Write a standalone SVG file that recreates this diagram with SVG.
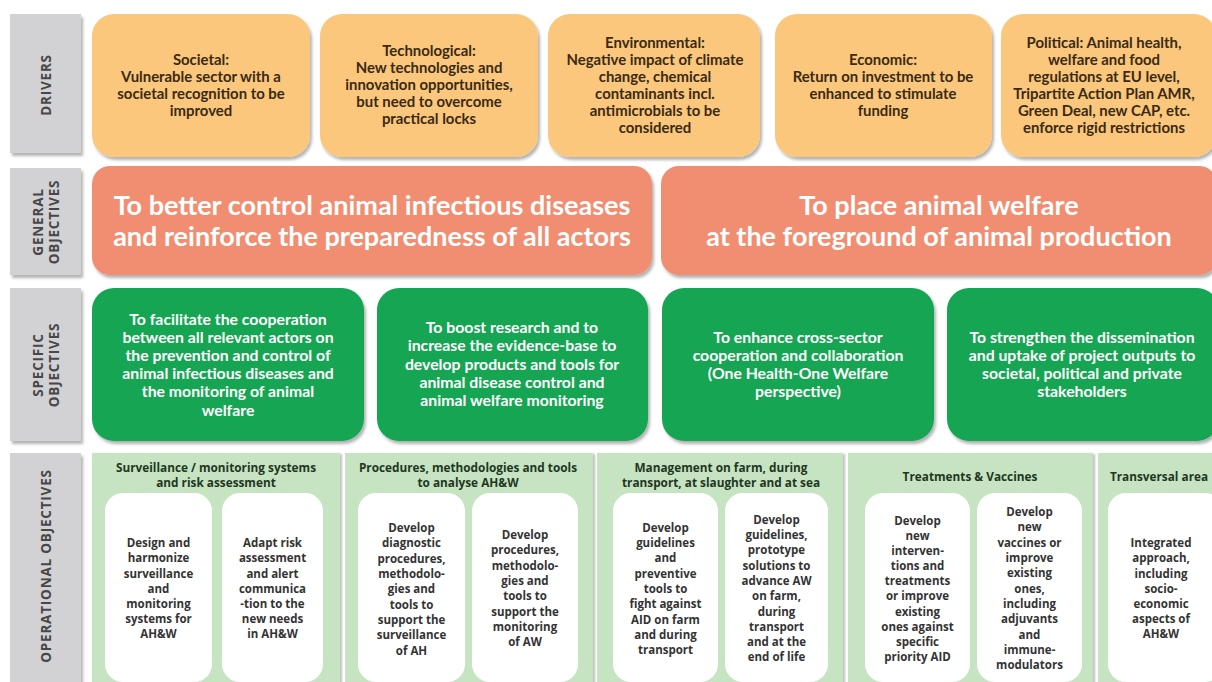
<svg xmlns="http://www.w3.org/2000/svg" width="1212" height="682" viewBox="0 0 1212 682">
<defs>
<filter id="sh" x="-10%" y="-10%" width="125%" height="125%">
<feDropShadow dx="2" dy="3" stdDeviation="1.8" flood-color="#000" flood-opacity="0.3"/>
</filter>
<filter id="sh2" x="-10%" y="-10%" width="125%" height="125%">
<feDropShadow dx="2" dy="1" stdDeviation="1.2" flood-color="#000" flood-opacity="0.25"/>
</filter>
</defs>
<style>
.lbl{fill:#d2d2d4;filter:url(#sh)}
.lt{font-family:"Open Sans","Noto Sans","DejaVu Sans",sans-serif;font-weight:700;font-size:13.5px;fill:#474747;text-anchor:middle;letter-spacing:0.8px}
.drv{fill:#fac77b;filter:url(#sh)}
.dt{font-family:Lato,"Liberation Sans",sans-serif;font-weight:700;font-size:14.9px;fill:#3a2a14;text-anchor:middle}
.gen{fill:#f18e71;filter:url(#sh)}
.gt{font-family:Lato,"Liberation Sans",sans-serif;font-weight:700;font-size:27px;fill:#ffffff;text-anchor:middle}
.spe{fill:#13a553;filter:url(#sh)}
.st{font-family:Lato,"Liberation Sans",sans-serif;font-weight:700;font-size:15.8px;fill:#ffffff;text-anchor:middle}
.pan{fill:#c6e4c2;filter:url(#sh2)}
.ph{font-family:"Open Sans","Noto Sans",sans-serif;font-weight:700;font-size:11.8px;fill:#22361f;text-anchor:middle}
.card{fill:#ffffff}
.ct{font-family:"Open Sans","Noto Sans",sans-serif;font-weight:700;font-size:11.5px;fill:#333333;text-anchor:middle}
</style>
<rect width="1212" height="682" fill="#ffffff"/>

<g id="label-drivers">
<rect class="lbl" x="10" y="14" width="71" height="139"/>
<text class="lt" transform="translate(51,85) rotate(-90)">DRIVERS</text>
</g>
<g id="label-general">
<rect class="lbl" x="10" y="168" width="71" height="107"/>
<text class="lt" transform="translate(43,222) rotate(-90)">GENERAL</text>
<text class="lt" transform="translate(59,222) rotate(-90)">OBJECTIVES</text>
</g>
<g id="label-specific">
<rect class="lbl" x="10" y="288" width="71" height="153"/>
<text class="lt" transform="translate(43,365) rotate(-90)">SPECIFIC</text>
<text class="lt" transform="translate(59,365) rotate(-90)">OBJECTIVES</text>
</g>
<g id="label-operational">
<rect class="lbl" x="10" y="453" width="71" height="240"/>
<text class="lt" transform="translate(51,566) rotate(-90)">OPERATIONAL OBJECTIVES</text>
</g>

<g id="driver-societal">
<rect class="drv" x="92" y="14" width="218" height="143" rx="22"/>
<text class="dt"><tspan x="201" y="65">Societal:</tspan><tspan x="201" y="82">Vulnerable sector with a</tspan><tspan x="201" y="99">societal recognition to be</tspan><tspan x="201" y="116">improved</tspan></text>
</g>
<g id="driver-technological">
<rect class="drv" x="320" y="14" width="218" height="143" rx="22"/>
<text class="dt"><tspan x="429" y="56">Technological:</tspan><tspan x="429" y="73">New technologies and</tspan><tspan x="429" y="90">innovation opportunities,</tspan><tspan x="429" y="107">but need to overcome</tspan><tspan x="429" y="124">practical locks</tspan></text>
</g>
<g id="driver-environmental">
<rect class="drv" x="548" y="14" width="212" height="143" rx="22"/>
<text class="dt"><tspan x="655" y="48">Environmental:</tspan><tspan x="655" y="65">Negative impact of climate</tspan><tspan x="655" y="82">change, chemical</tspan><tspan x="655" y="99">contaminants incl.</tspan><tspan x="655" y="116">antimicrobials to be</tspan><tspan x="655" y="133">considered</tspan></text>
</g>
<g id="driver-economic">
<rect class="drv" x="775" y="14" width="217" height="143" rx="22"/>
<text class="dt"><tspan x="883" y="65">Economic:</tspan><tspan x="883" y="82">Return on investment to be</tspan><tspan x="883" y="99">enhanced  to stimulate</tspan><tspan x="883" y="116">funding</tspan></text>
</g>
<g id="driver-political">
<rect class="drv" x="1001" y="14" width="215" height="143" rx="22"/>
<text class="dt"><tspan x="1104" y="48">Political: Animal health,</tspan><tspan x="1104" y="65">welfare and food</tspan><tspan x="1104" y="82">regulations at EU level,</tspan><tspan x="1104" y="99">Tripartite Action Plan AMR,</tspan><tspan x="1104" y="116">Green Deal, new CAP, etc.</tspan><tspan x="1104" y="133">enforce rigid restrictions</tspan></text>
</g>

<g id="general-1">
<rect class="gen" x="92" y="166" width="560" height="109" rx="18"/>
<text class="gt"><tspan x="372" y="215">To better control animal infectious diseases</tspan><tspan x="372" y="246">and reinforce the preparedness of all actors</tspan></text>
</g>
<g id="general-2">
<rect class="gen" x="661" y="166" width="556" height="109" rx="18"/>
<text class="gt"><tspan x="939" y="215">To place animal welfare</tspan><tspan x="939" y="246">at the foreground of animal production</tspan></text>
</g>

<g id="specific-1">
<rect class="spe" x="92" y="288" width="272" height="153" rx="22"/>
<text class="st"><tspan x="228" y="325">To facilitate the cooperation</tspan><tspan x="228" y="343">between all relevant actors on</tspan><tspan x="228" y="361">the prevention and control of</tspan><tspan x="228" y="379">animal infectious diseases and</tspan><tspan x="228" y="397">the monitoring of animal</tspan><tspan x="228" y="416">welfare</tspan></text>
</g>
<g id="specific-2">
<rect class="spe" x="377" y="288" width="271" height="153" rx="22"/>
<text class="st"><tspan x="512" y="333">To boost research and to</tspan><tspan x="512" y="351">increase the evidence-base to</tspan><tspan x="512" y="370">develop products and tools for</tspan><tspan x="512" y="388">animal disease control  and</tspan><tspan x="512" y="406">animal welfare monitoring</tspan></text>
</g>
<g id="specific-3">
<rect class="spe" x="662" y="288" width="272" height="153" rx="22"/>
<text class="st"><tspan x="798" y="343">To enhance cross-sector</tspan><tspan x="798" y="361">cooperation and collaboration</tspan><tspan x="798" y="379">(One Health-One Welfare</tspan><tspan x="798" y="397">perspective)</tspan></text>
</g>
<g id="specific-4">
<rect class="spe" x="947" y="288" width="272" height="153" rx="22"/>
<text class="st"><tspan x="1082" y="343">To strengthen the dissemination</tspan><tspan x="1082" y="361">and uptake of project outputs to</tspan><tspan x="1082" y="379">societal, political and private</tspan><tspan x="1082" y="397">stakeholders</tspan></text>
</g>

<g id="op-surveillance">
<rect class="pan" x="92" y="453" width="248" height="240"/>
<text class="ph"><tspan x="216" y="472">Surveillance / monitoring systems</tspan><tspan x="216" y="487">and risk assessment</tspan></text>
<rect class="card" x="105" y="493" width="107" height="189" rx="18"/>
<text class="ct"><tspan x="158.5" y="547">Design and</tspan><tspan x="158.5" y="562">harmonize</tspan><tspan x="158.5" y="577.5">surveillance</tspan><tspan x="158.5" y="593">and</tspan><tspan x="158.5" y="608">monitoring</tspan><tspan x="158.5" y="623">systems for</tspan><tspan x="158.5" y="638">AH&amp;W</tspan></text>
<rect class="card" x="222" y="493" width="101" height="189" rx="18"/>
<text class="ct"><tspan x="272.5" y="547">Adapt risk</tspan><tspan x="272.5" y="562">assessment</tspan><tspan x="272.5" y="577.5">and alert</tspan><tspan x="272.5" y="593">communica</tspan><tspan x="272.5" y="608">-tion to the</tspan><tspan x="272.5" y="623">new needs</tspan><tspan x="272.5" y="638">in AH&amp;W</tspan></text>
</g>

<g id="op-procedures">
<rect class="pan" x="345" y="453" width="248" height="240"/>
<text class="ph"><tspan x="468" y="472">Procedures, methodologies and tools</tspan><tspan x="468" y="487">to analyse AH&amp;W</tspan></text>
<rect class="card" x="358" y="493" width="107" height="189" rx="18"/>
<text class="ct"><tspan x="411.5" y="532">Develop</tspan><tspan x="411.5" y="547">diagnostic</tspan><tspan x="411.5" y="563">procedures,</tspan><tspan x="411.5" y="578">methodolo-</tspan><tspan x="411.5" y="593">gies and</tspan><tspan x="411.5" y="609">tools to</tspan><tspan x="411.5" y="624">support the</tspan><tspan x="411.5" y="639">surveillance</tspan><tspan x="411.5" y="655">of AH</tspan></text>
<rect class="card" x="472" y="493" width="106" height="189" rx="18"/>
<text class="ct"><tspan x="525" y="539">Develop</tspan><tspan x="525" y="554">procedures,</tspan><tspan x="525" y="570">methodolo-</tspan><tspan x="525" y="585">gies and</tspan><tspan x="525" y="600">tools to</tspan><tspan x="525" y="616">support the</tspan><tspan x="525" y="631">monitoring</tspan><tspan x="525" y="646">of AW</tspan></text>
</g>

<g id="op-management">
<rect class="pan" x="597" y="453" width="246" height="240"/>
<text class="ph"><tspan x="721" y="472">Management  on farm, during</tspan><tspan x="721" y="487">transport, at slaughter and at sea</tspan></text>
<rect class="card" x="613" y="493" width="105" height="189" rx="18"/>
<text class="ct"><tspan x="665.5" y="532">Develop</tspan><tspan x="665.5" y="547">guidelines</tspan><tspan x="665.5" y="562">and</tspan><tspan x="665.5" y="578">preventive</tspan><tspan x="665.5" y="593">tools to</tspan><tspan x="665.5" y="608">fight against</tspan><tspan x="665.5" y="624">AID on farm</tspan><tspan x="665.5" y="639">and during</tspan><tspan x="665.5" y="654">transport</tspan></text>
<rect class="card" x="725" y="493" width="103" height="189" rx="18"/>
<text class="ct"><tspan x="776.5" y="524">Develop</tspan><tspan x="776.5" y="539">guidelines,</tspan><tspan x="776.5" y="554">prototype</tspan><tspan x="776.5" y="570">solutions to</tspan><tspan x="776.5" y="585">advance AW</tspan><tspan x="776.5" y="600">on farm,</tspan><tspan x="776.5" y="616">during</tspan><tspan x="776.5" y="631">transport</tspan><tspan x="776.5" y="646">and at the</tspan><tspan x="776.5" y="661">end of life</tspan></text>
</g>

<g id="op-treatments">
<rect class="pan" x="848" y="453" width="245" height="240"/>
<text class="ph"><tspan x="970" y="481">Treatments &amp; Vaccines</tspan></text>
<rect class="card" x="865" y="493" width="105" height="189" rx="18"/>
<text class="ct"><tspan x="917.5" y="525">Develop</tspan><tspan x="917.5" y="540">new</tspan><tspan x="917.5" y="555">interven-</tspan><tspan x="917.5" y="570">tions and</tspan><tspan x="917.5" y="585">treatments</tspan><tspan x="917.5" y="600">or improve</tspan><tspan x="917.5" y="616">existing</tspan><tspan x="917.5" y="631">ones against</tspan><tspan x="917.5" y="646">specific</tspan><tspan x="917.5" y="661">priority AID</tspan></text>
<rect class="card" x="977" y="493" width="105" height="189" rx="18"/>
<text class="ct"><tspan x="1029.5" y="516">Develop</tspan><tspan x="1029.5" y="531">new</tspan><tspan x="1029.5" y="547">vaccines or</tspan><tspan x="1029.5" y="562">improve</tspan><tspan x="1029.5" y="577">existing</tspan><tspan x="1029.5" y="593">ones,</tspan><tspan x="1029.5" y="608">including</tspan><tspan x="1029.5" y="623">adjuvants</tspan><tspan x="1029.5" y="639">and</tspan><tspan x="1029.5" y="654">immune-</tspan><tspan x="1029.5" y="669">modulators</tspan></text>
</g>

<g id="op-transversal">
<rect class="pan" x="1098" y="453" width="130" height="240"/>
<text class="ph"><tspan x="1159" y="481">Transversal area</tspan></text>
<rect class="card" x="1108" y="493" width="115" height="189" rx="18"/>
<text class="ct"><tspan x="1161" y="547">Integrated</tspan><tspan x="1161" y="562">approach,</tspan><tspan x="1161" y="577.5">including</tspan><tspan x="1161" y="593">socio-</tspan><tspan x="1161" y="608">economic</tspan><tspan x="1161" y="623">aspects of</tspan><tspan x="1161" y="638">AH&amp;W</tspan></text>
</g>

<g id="connectors"></g>
</svg>
